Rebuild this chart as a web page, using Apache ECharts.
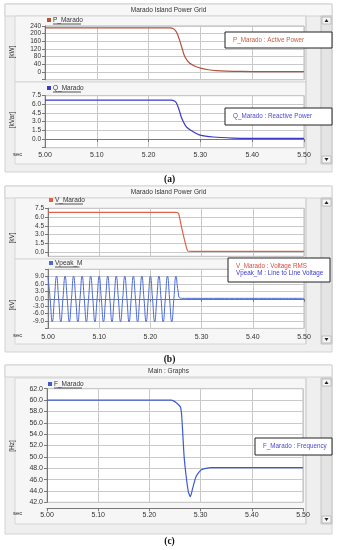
<!DOCTYPE html>
<html><head><meta charset="utf-8">
<script src="https://cdn.jsdelivr.net/npm/echarts@6/dist/echarts.min.js"></script>
<style>html,body{margin:0;padding:0;background:#fff}#c{width:339px;height:550px}</style>
</head><body><div id="c"></div>
<script>
// ---- data ----
const xTicks = [5.00, 5.10, 5.20, 5.30, 5.40, 5.50];
const vTicks = [0, 1.5, 3.0, 4.5, 6.0, 7.5];

const pTime = [5.00, 5.240, 5.248, 5.254, 5.260, 5.265, 5.270, 5.279, 5.290, 5.300, 5.315, 5.330, 5.350, 5.380, 5.420, 5.500];
const pVal  = [230, 230, 226, 207, 165, 120, 80, 47, 30, 20, 12, 7, 4.5, 3, 2.5, 2.5];

const qTime = [5.00, 5.243, 5.250, 5.254, 5.259, 5.264, 5.273, 5.286, 5.299, 5.325, 5.363, 5.400, 5.500];
const qVal  = [6.75, 6.75, 6.6, 6.2, 5.0, 3.6, 2.1, 1.26, 0.69, 0.35, 0.17, 0.12, 0.1];

const vTime = [5.00, 5.250, 5.255, 5.260, 5.266, 5.273, 5.280, 5.500];
const vVal  = [6.8, 6.8, 6.6, 4.6, 2.3, 0.15, 0.1, 0.1];

// Vpeak_M sampled every quarter cycle of 60 Hz from 5.00 s
const vpeakStart = 5.0;
const vpeakStep = 1 / 240;
const vpeakVal = [
  9.2, 0, -9.3, 0, 9.2, 0, -9.3, 0, 9.2, 0, -9.3, 0, 9.2, 0, -9.3, 0,
  9.2, 0, -9.3, 0, 9.2, 0, -9.3, 0, 9.2, 0, -9.3, 0, 9.2, 0, -9.3, 0,
  9.2, 0, -9.3, 0, 9.2, 0, -9.3, 0, 9.2, 0, -9.3, 0, 9.2, 0, -9.3, 0,
  9.2, 0, -9.3, 0, 9.2, 0, -9.3, 0, 9.2, 0, -9.3, 0, 9.2, 3.0, 0.3
];
const vpeakTailTime = [5.270, 5.500];
const vpeakTailVal  = [0.2, 0.2];

const fTime = [5.00, 5.243, 5.2604, 5.2636, 5.2676, 5.2715, 5.2760, 5.2799, 5.2846, 5.2910, 5.3008, 5.3203, 5.500];
const fVal  = [60.0, 60.0, 58.8, 56.5, 50.3, 46.8, 43.9, 43.0, 44.5, 46.5, 47.7, 48.1, 48.1];

// ---- build ----
const zip = (t, v) => t.map((x, i) => [x, v[i]]);
const vpeakData = vpeakVal.map((v, i) => [vpeakStart + i * vpeakStep, v]).concat(zip(vpeakTailTime, vpeakTailVal));

const FONT = 'Liberation Sans';
const gridLine = { show: true, lineStyle: { color: '#c9c9c9', width: 1 } };

const grids = [
  { left: 45, top: 26, width: 259, height: 53.7 },      // P
  { left: 45, top: 95.7, width: 259, height: 52 },      // Q
  { left: 48, top: 208.3, width: 256, height: 48.0 },   // V
  { left: 48, top: 269.3, width: 256, height: 59.1 },   // Vpeak
  { left: 47, top: 388.7, width: 256, height: 113.6 }   // F
].map(g => Object.assign(g, { show: true, backgroundColor: '#ffffff', borderColor: '#b8b8b8', borderWidth: 1, containLabel: false }));

function xAxis(idx, showLabels, margin, offset) {
  return {
    type: 'value', gridIndex: idx, min: 5.0, max: 5.5, interval: 0.1,
    offset: offset || 0,
    splitLine: gridLine,
    axisLine: { show: showLabels, lineStyle: { color: '#777' } },
    axisTick: { show: showLabels, length: 3, inside: false, lineStyle: { color: '#777' } },
    axisLabel: {
      show: showLabels, margin: margin || 4, fontSize: 7, color: '#333', fontFamily: FONT,
      formatter: v => v.toFixed(2)
    }
  };
}
function yAxis(idx, min, max, interval, hide, fs) {
  return {
    type: 'value', gridIndex: idx, min: min, max: max, interval: interval,
    splitLine: gridLine,
    axisLine: { show: true, lineStyle: { color: '#777' } },
    axisTick: { show: true, length: 3, lineStyle: { color: '#777' } },
    axisLabel: {
      margin: 4, fontSize: fs || 6.5, color: '#333', fontFamily: FONT,
      formatter: v => (hide.indexOf(v) >= 0 ? '' : v.toFixed(interval >= 10 ? 0 : 1))
    }
  };
}
const vAxis = yAxis(2, -0.75, 7.5, 0.75, []);
vAxis.axisTick.customValues = vTicks;
vAxis.axisLabel.customValues = vTicks;
vAxis.splitLine = Object.assign({}, gridLine, { customValues: vTicks });

function line(idx, data, color, smooth, width) {
  return {
    type: 'line', xAxisIndex: idx, yAxisIndex: idx, data: data, showSymbol: false,
    smooth: smooth, lineStyle: { color: color, width: width || 1.2 }, animation: false, z: 5
  };
}

const C_P = '#b3523a', C_Q = '#3a3ac4', C_V = '#e0604a', C_VP = '#4a6ad6', C_F = '#3d5bd0';

const G = [];
function rect(x, y, w, h, fill, stroke, z) {
  G.push({ type: 'rect', z: z === undefined ? -10 : z, shape: { x: x, y: y, width: w, height: h },
    style: { fill: fill, stroke: stroke || null, lineWidth: 1 } });
}
function text(x, y, s, opt) {
  G.push(Object.assign({ type: 'text', x: x, y: y, z: 50,
    style: Object.assign({ text: s, fontSize: 6.5, fontFamily: FONT, fill: '#333',
      textAlign: 'left', textVerticalAlign: 'middle' }, opt || {}) }));
}
function vtext(x, y, s) {
  G.push({ type: 'text', x: x, y: y, rotation: Math.PI / 2, z: 50,
    style: { text: s, fontSize: 6.5, fontFamily: FONT, fill: '#333', textAlign: 'center', textVerticalAlign: 'middle' } });
}
function hline(x1, y, x2, color, z) {
  G.push({ type: 'line', z: z || -5, shape: { x1: x1, y1: y, x2: x2, y2: y }, style: { stroke: color, lineWidth: 1 } });
}
function vline(x, y1, y2, color, z) {
  G.push({ type: 'line', z: z || -5, shape: { x1: x, y1: y1, x2: x, y2: y2 }, style: { stroke: color, lineWidth: 1 } });
}
function legendLabel(x, y, s, color) {
  rect(x, y - 2, 4, 4, color, null, 40);
  text(x + 6, y, s, { fill: '#333' });
  const w = s.length * 3.5;
  hline(x + 6, y + 4, x + 6 + w, '#555', 40);
}
function legendBox(x, y, w, h, lines) {
  rect(x, y, w, h, '#ffffff', '#222222', 60);
  const n = lines.length;
  lines.forEach((l, i) => {
    G.push({ type: 'text', x: x + 8, y: y + h / 2 + (i - (n - 1) / 2) * 7.5, z: 61,
      style: { text: l[0], fontSize: 6.3, fontFamily: FONT, fill: l[1], textAlign: 'left', textVerticalAlign: 'middle' } });
  });
}
function scrollbar(x, y1, y2) {
  rect(x, y1, 11, y2 - y1, '#e4e4e4', '#c4c4c4');
  rect(x + 1, y1 + 1, 9, 7, '#f6f6f6', '#bcbcbc', -4);
  rect(x + 1, y2 - 8, 9, 7, '#f6f6f6', '#bcbcbc', -4);
  G.push({ type: 'polygon', z: -3, shape: { points: [[x + 3.5, y1 + 6], [x + 7.5, y1 + 6], [x + 5.5, y1 + 3]] }, style: { fill: '#222' } });
  G.push({ type: 'polygon', z: -3, shape: { points: [[x + 3.5, y2 - 6], [x + 7.5, y2 - 6], [x + 5.5, y2 - 3]] }, style: { fill: '#222' } });
}
function panel(y1, y2, title) {
  rect(5, y1, 327, y2 - y1, '#efefef', '#d2d2d2', -20);
  rect(5, y1, 327, 12, '#f7f7f7', '#d2d2d2', -19);
  text(168.5, y1 + 6, title, { textAlign: 'center', fill: '#333' });
}
function caption(y, s) {
  text(169.5, y, s, { textAlign: 'center', fontFamily: 'Liberation Serif', fontSize: 9.5, fontWeight: 'bold', fill: '#111' });
}

// Panel (a)
panel(4, 172, 'Marado Island Power Grid');
rect(15, 16, 291, 66, '#f6f6f6', '#d6d6d6', -15);
rect(15, 82, 291, 82, '#f6f6f6', '#d6d6d6', -15);
vline(306, 16, 164, '#d0d0d0');
scrollbar(321, 16, 164);
legendLabel(47, 20, 'P_Marado', C_P);
legendLabel(47, 88, 'Q_Marado', C_Q);
vtext(12, 52, '[kW]');
vtext(12, 120, '[kVar]');
text(13, 154, 'sec', { fontSize: 6 });
legendBox(225, 32, 107, 16, [['P_Marado : Active Power', '#c0604a']]);
legendBox(225, 108, 107, 17, [['Q_Marado : Reactive Power', '#4a4ad0']]);
caption(179.5, '(a)');

// Panel (b)
panel(186, 352, 'Marado Island Power Grid');
rect(15, 198, 291, 61, '#f6f6f6', '#d6d6d6', -15);
rect(15, 259, 291, 85, '#f6f6f6', '#d6d6d6', -15);
vline(306, 198, 344, '#d0d0d0');
scrollbar(321, 198, 344);
legendLabel(49, 200, 'V_Marado', C_V);
legendLabel(49, 263, 'Vpeak_M', C_VP);
vtext(12, 238, '[kV]');
vtext(12, 305, '[kV]');
text(13, 335, 'sec', { fontSize: 6 });
legendBox(228, 258, 102, 24, [['V_Marado : Voltage RMS', '#e04a40'], ['Vpeak_M : Line to Line Voltage', '#3a3ad0']]);
caption(359.5, '(b)');

// Panel (c)
panel(365, 534, 'Main : Graphs');
rect(15, 378, 291, 146, '#f6f6f6', '#d6d6d6', -15);
vline(306, 378, 524, '#d0d0d0');
scrollbar(321, 378, 524);
legendLabel(48, 384, 'F_Marado', C_F);
vtext(12, 446, '[Hz]');
text(13, 513, 'sec', { fontSize: 6 });
legendBox(255, 438, 77, 17, [['F_Marado : Frequency', '#4a4ad0']]);
caption(542, '(c)');

const chart = echarts.init(document.getElementById('c'), null, { renderer: 'canvas', width: 339, height: 550 });
chart.setOption({
  animation: false,
  backgroundColor: '#ffffff',
  grid: grids,
  xAxis: [xAxis(0, false), xAxis(1, true, 4), xAxis(2, false), xAxis(3, true, 5), xAxis(4, true, 3, 6)],
  yAxis: [
    yAxis(0, -40, 240, 40, [-40]),
    yAxis(1, -1.5, 7.5, 1.5, [-1.5]),
    vAxis,
    yAxis(3, -12, 12, 3, [-12, 12]),
    yAxis(4, 42, 62, 2, [], 7)
  ],
  series: [
    line(0, zip(pTime, pVal), C_P, 0.3),
    line(1, zip(qTime, qVal), C_Q, 0.3),
    line(2, zip(vTime, vVal), C_V, 0.2),
    line(3, vpeakData, C_VP, 0.5, 1),
    line(4, zip(fTime, fVal), C_F, 0.2)
  ],
  graphic: { elements: G }
});
</script>
</body></html>
